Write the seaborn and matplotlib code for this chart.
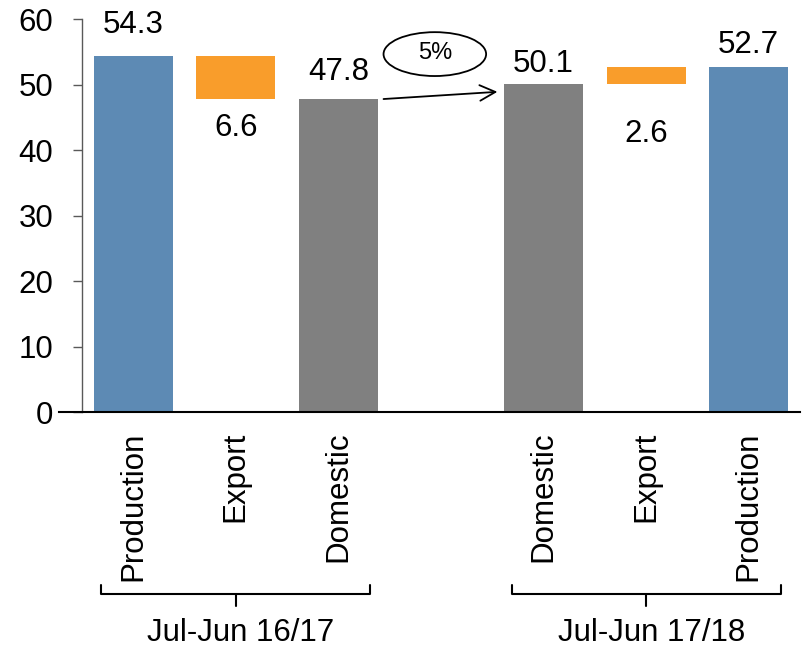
import matplotlib
matplotlib.use("Agg")
import matplotlib.pyplot as plt
from matplotlib.patches import Ellipse
import pandas as pd
import seaborn as sns

# Slots along the x axis (one empty slot separates the two seasons)
slots = ["P16", "E16", "D16", "gap", "D17", "E17", "P17"]
tick_labels = ["Production", "Export", "Domestic", "", "Domestic", "Export", "Production"]
groups = ["Jul-Jun 16/17", "Jul-Jun 17/18"]

production = {"P16": 54.3, "P17": 52.7}
domestic = {"D16": 47.8, "D17": 50.1}
export = {"E16": 6.6, "E17": 2.6}
export_base = {"E16": 47.8, "E17": 50.1}

blue, orange, grey = "#5D8AB4", "#F99D2B", "#808080"

sns.set_theme(style="ticks", rc={"text.color": "black", "axes.labelcolor": "black",
                                 "xtick.labelcolor": "black", "ytick.labelcolor": "black"})
plt.rcParams["font.family"] = ["Liberation Sans", "DejaVu Sans"]
FS = 22.5

fig = plt.figure(figsize=(8.02, 6.48), dpi=100)
ax = fig.add_axes([0.1022, 0.364, 0.8953, 0.6065])

df_prod = pd.DataFrame({"slot": list(production), "value": list(production.values())})
df_dom = pd.DataFrame({"slot": list(domestic), "value": list(domestic.values())})
df_exp = pd.DataFrame({"slot": list(export), "value": list(export.values())})

common = dict(x="slot", y="value", order=slots, width=0.77, errorbar=None,
              linewidth=0, ax=ax)
sns.barplot(data=df_prod, color=blue, saturation=1, **common)
sns.barplot(data=df_dom, color=grey, saturation=1, **common)
sns.barplot(data=df_exp, color=orange, saturation=1,
            bottom=[export_base[s] for s in df_exp["slot"]], **common)

ax.set_xlim(-0.5, len(slots) - 0.5)
ax.set_ylim(0, 60)
ax.set_yticks(range(0, 61, 10))
ax.set_xlabel("")
ax.set_ylabel("")

pos = {s: i for i, s in enumerate(slots)}
ax.set_xticks([pos[s] for s in slots if s != "gap"])
ax.set_xticklabels([t for s, t in zip(slots, tick_labels) if s != "gap"],
                   rotation=90, fontsize=FS, va="top", ha="center")
ax.tick_params(axis="x", length=0, pad=14, labelcolor="black")
ax.tick_params(axis="y", length=6.5, width=1, color="#595959", labelsize=FS, pad=14,
               labelcolor="black")

for side in ("top", "right"):
    ax.spines[side].set_visible(False)
ax.spines["left"].set_color("#595959")
ax.spines["left"].set_linewidth(1)
ax.spines["bottom"].set_color("black")
ax.spines["bottom"].set_linewidth(1.5)
ax.spines["bottom"].set_bounds(-0.72, len(slots) - 0.5)

# Value labels above totals, below export blocks
above_offsets = {"P16": 16.6, "D16": 13.7, "D17": 8.6, "P17": 10.1}
for d in (production, domestic):
    for s, v in d.items():
        ax.annotate(f"{v}", xy=(pos[s], v), xytext=(0, above_offsets[s]),
                    textcoords="offset points", ha="center", va="baseline",
                    fontsize=FS, color="black")
below_offsets = {"E16": -10, "E17": -25}
for s, v in export.items():
    ax.annotate(f"{v}", xy=(pos[s], export_base[s]), xytext=(0, below_offsets[s]),
                textcoords="offset points", ha="center", va="top", fontsize=FS,
                color="black")

# Growth of domestic use between seasons
growth = (domestic["D17"] - domestic["D16"]) / domestic["D16"]
ax.annotate("", xy=(pos["D17"] - 0.45, 48.9), xytext=(pos["D16"] + 0.44, domestic["D16"]),
            arrowprops=dict(arrowstyle="->", color="black", lw=1.3,
                            mutation_scale=28, shrinkA=0, shrinkB=0))
ax.add_patch(Ellipse((2.94, 54.66), 1.0, 6.7, facecolor="white", edgecolor="black",
                     lw=1.3, clip_on=False))
ax.text(2.94, 54.9, f"{growth:.0%}", ha="center", va="center", fontsize=17,
        color="black")

# Brackets grouping each season
trans = ax.get_xaxis_transform()
group_spans = [(pos["P16"], pos["D16"]), (pos["D17"], pos["P17"])]
for (a, b), name in zip(group_spans, groups):
    x0, x1 = a - 0.31, b + 0.31
    xm = (a + b) / 2
    ax.plot([x0, x0, x1, x1], [-0.440, -0.463, -0.463, -0.440], transform=trans,
            color="black", lw=1.5, clip_on=False, solid_joinstyle="round")
    ax.plot([xm, xm], [-0.463, -0.494], transform=trans, color="black", lw=1.5,
            clip_on=False)
    ax.text(xm + 0.05, -0.562, name, transform=trans, ha="center", va="center",
            fontsize=FS, color="black")

fig.savefig("out.png", dpi=100)
